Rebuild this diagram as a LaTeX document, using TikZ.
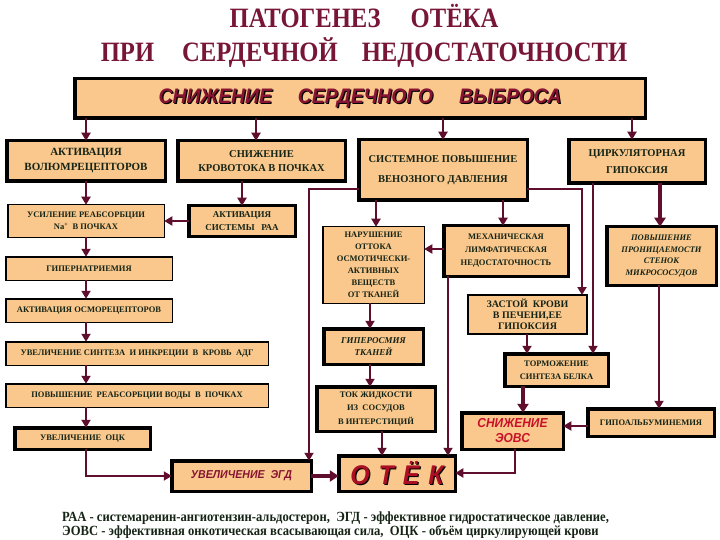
\documentclass[tikz,border=0pt]{standalone}
\usepackage{fontspec}
\setmainfont{Liberation Serif}
\newfontfamily\titlef{Liberation Serif}[FakeStretch=0.88]
\newfontfamily\footf{Liberation Serif}[FakeStretch=0.9]
\newfontfamily\sansit{Liberation Sans}[FakeStretch=0.92]
\usetikzlibrary{arrows.meta}
\definecolor{boxfill}{RGB}{250,200,140}
\definecolor{conn}{RGB}{95,15,45}
\definecolor{titlec}{RGB}{120,22,55}
\definecolor{textc}{RGB}{22,36,22}
\definecolor{redt}{RGB}{200,16,40}
\definecolor{otekc}{RGB}{170,15,35}
\definecolor{mainc}{RGB}{135,20,50}
\definecolor{shadowc}{RGB}{128,128,128}
\newcommand{\shtext}[2]{\leavevmode\rlap{\kern1.2pt\raisebox{-1.2pt}{\color{black}#2}}{\color{#1}#2}}
\pgfdeclarelayer{bg}
\pgfsetlayers{bg,main}
\tikzset{
  bigbox/.style={draw=black, line width=3.5pt, fill=boxfill, inner sep=0pt, outer sep=0pt, align=center, text=textc, font=\bfseries},
  smallbox/.style={draw=black, line width=1.5pt, fill=boxfill, inner sep=0pt, outer sep=0pt, align=center, text=textc, font=\bfseries},
  arr/.style={draw=conn, line width=2.5pt, -{Triangle[length=8pt,width=9pt]}},
  fatarr/.style={draw=conn, line width=4pt, -{Triangle[length=9pt,width=11pt]}},
  fs/.style={font=\bfseries\fontsize{#1}{#1}\selectfont}
}
\begin{document}
\begin{tikzpicture}[x=1pt,y=-1pt]
\useasboundingbox[fill=white] (0,0) rectangle (720,540);
% title
\node[anchor=base, text=titlec, font=\titlef\bfseries\fontsize{28}{28}\selectfont] (t1) at (364,28) {ПАТОГЕНЕЗ\hspace{30pt}ОТЁКА};
\node[anchor=base, text=titlec, font=\titlef\bfseries\fontsize{28}{28}\selectfont] (t2) at (364,62) {ПРИ\hspace{28pt}СЕРДЕЧНОЙ\hspace{24pt}НЕДОСТАТОЧНОСТИ};
% main box
\node[bigbox, minimum width=570.5pt, minimum height=39.5pt, font=\sansit\bfseries\itshape\fontsize{21}{21}\selectfont] (main) at (360,98.5)
  {\shtext{mainc}{СНИЖЕНИЕ\hspace{26pt}СЕРДЕЧНОГО\hspace{26pt}ВЫБРОСА}};
% row 1
\node[bigbox, minimum width=158.5pt, minimum height=40.5pt, font=\bfseries\fontsize{11}{15}\selectfont] (A1) at (86,161) {АКТИВАЦИЯ\\ВОЛЮМРЕЦЕПТОРОВ};
\node[bigbox, minimum width=167.5pt, minimum height=40.5pt, font=\bfseries\fontsize{10.5}{14}\selectfont] (A2) at (261.5,161) {СНИЖЕНИЕ\\КРОВОТОКА В ПОЧКАХ};
\node[bigbox, minimum width=168.5pt, minimum height=60.5pt, font=\bfseries\fontsize{10.5}{20}\selectfont] (A3) at (443,170) {СИСТЕМНОЕ ПОВЫШЕНИЕ\\ВЕНОЗНОГО ДАВЛЕНИЯ};
\node[bigbox, minimum width=136.5pt, minimum height=43.5pt, font=\bfseries\fontsize{10.5}{17}\selectfont] (A4) at (637,161.5) {ЦИРКУЛЯТОРНАЯ\\ГИПОКСИЯ};
% left column
\node[smallbox, minimum width=156.5pt, minimum height=32.5pt, font=\bfseries\fontsize{8.5}{12}\selectfont] (B1) at (86,221) {УСИЛЕНИЕ РЕАБСОРБЦИИ\\Na\textsuperscript{+}~ В ПОЧКАХ};
\node[bigbox, minimum width=106.5pt, minimum height=30.5pt, font=\bfseries\fontsize{9}{13}\selectfont] (B2) at (242,221) {АКТИВАЦИЯ\\СИСТЕМЫ~~ РАА};
\node[smallbox, minimum width=166.5pt, minimum height=23.5pt, fs=8.5] (C1) at (89,268.5) {ГИПЕРНАТРИЕМИЯ};
\node[smallbox, minimum width=166.5pt, minimum height=23.5pt, fs=8.5] (D1) at (89,310.5) {АКТИВАЦИЯ ОСМОРЕЦЕПТОРОВ};
\node[smallbox, minimum width=262.5pt, minimum height=23.5pt, fs=8.5] (E1) at (137,353.5) {УВЕЛИЧЕНИЕ СИНТЕЗА~ И ИНКРЕЦИИ~ В~ КРОВЬ~ АДГ};
\node[smallbox, minimum width=262.5pt, minimum height=23.5pt, fs=8.5] (F1) at (137,395.5) {ПОВЫШЕНИЕ~ РЕАБСОРБЦИИ ВОДЫ~ В~ ПОЧКАХ};
\node[bigbox, minimum width=135.5pt, minimum height=21.5pt, fs=8.5] (G1) at (82.5,438.5) {УВЕЛИЧЕНИЕ~ ОЦК};
% middle
\node[smallbox, minimum width=101.5pt, minimum height=76.5pt, font=\bfseries\fontsize{8.5}{12}\selectfont] (NAR) at (373.5,265) {НАРУШЕНИЕ\\ОТТОКА\\ОСМОТИЧЕСКИ-\\АКТИВНЫХ\\ВЕЩЕСТВ\\ОТ ТКАНЕЙ};
\node[bigbox, minimum width=124.5pt, minimum height=50.5pt, font=\bfseries\fontsize{8.5}{13}\selectfont] (MEH) at (506,251) {МЕХАНИЧЕСКАЯ\\ЛИМФАТИЧЕСКАЯ\\НЕДОСТАТОЧНОСТЬ};
\node[smallbox, line width=2pt, minimum width=119pt, minimum height=39pt, font=\bfseries\fontsize{10}{11}\selectfont] (ZAS) at (527.5,314.5) {ЗАСТОЙ~ КРОВИ\\В ПЕЧЕНИ,ЕЕ\\ГИПОКСИЯ};
\node[bigbox, minimum width=99.5pt, minimum height=35.5pt, font=\bfseries\itshape\fontsize{9}{12}\selectfont] (GIPER) at (373.5,346.5) {ГИПЕРОСМИЯ\\ТКАНЕЙ};
\node[bigbox, minimum width=118.5pt, minimum height=44.5pt, font=\bfseries\fontsize{8.5}{13.5}\selectfont] (TOK) at (376,409) {ТОК ЖИДКОСТИ\\ИЗ~ СОСУДОВ\\В ИНТЕРСТИЦИЙ};
\node[bigbox, minimum width=103.5pt, minimum height=32.5pt, font=\bfseries\fontsize{8.5}{13}\selectfont] (TORM) at (556.5,370) {ТОРМОЖЕНИЕ\\СИНТЕЗА БЕЛКА};
\node[bigbox, minimum width=109.5pt, minimum height=58.5pt, font=\bfseries\itshape\fontsize{8.5}{11.5}\selectfont] (POV) at (661.5,256) {ПОВЫШЕНИЕ\\ПРОНИЦАЕМОСТИ\\СТЕНОК\\МИКРОСОСУДОВ};
\node[bigbox, minimum width=126.5pt, minimum height=27.5pt, fs=8.5] (GALB) at (651,422.5) {ГИПОАЛЬБУМИНЕМИЯ};
\node[bigbox, minimum width=101.5pt, minimum height=36.5pt, text=redt, font=\sansit\bfseries\itshape\fontsize{13}{15}\selectfont] (EOVS) at (512.5,431) {СНИЖЕНИЕ\\ЭОВС};
% bottom
\node[bigbox, minimum width=139.5pt, minimum height=30.5pt, text=mainc, font=\sansit\bfseries\itshape\fontsize{11.5}{12}\selectfont] (EGD) at (241.5,476) {УВЕЛИЧЕНИЕ~ ЭГД};
\node[bigbox, minimum width=116.5pt, minimum height=35.5pt, font=\sansit\bfseries\itshape\fontsize{27}{27}\selectfont] (OTEK) at (397,473.5) {\shtext{otekc}{О\hspace{9pt}Т\hspace{9pt}Ё\hspace{9pt}К}};
% shadows
\begin{pgfonlayer}{bg}
\fill[shadowc] ([shift={(3,-3)}]main.south west) rectangle ([shift={(6.75,-6.75)}]main.north east);
\fill[shadowc] ([shift={(3,-5)}]EGD.south west) rectangle ([shift={(6.75,-8.75)}]EGD.north east);
\fill[shadowc] ([shift={(3,-5)}]OTEK.south west) rectangle ([shift={(6.75,-7.75)}]OTEK.north east);
\end{pgfonlayer}
% connectors
\draw[arr] (main.south -| A1) -- (A1.north);
\draw[arr] (main.south -| 256,0) -- (A2.north -| 256,0);
\draw[arr] (main.south -| A3) -- (A3.north);
\draw[arr] (main.south -| 632,0) -- (A4.north -| 632,0);
\draw[arr] (A1.south) -- (B1.north);
\draw[arr] (A2.south -| B2) -- (B2.north);
\draw[arr] (B2.west) -- (B1.east);
\draw[arr] (B1.south) -- (C1.north -| B1);
\draw[arr] (C1.south -| B1) -- (D1.north -| B1);
\draw[arr] (D1.south -| B1) -- (E1.north -| B1);
\draw[arr] (E1.south -| B1) -- (F1.north -| B1);
\draw[arr] (F1.south -| B1) -- (G1.north -| B1);
\draw[arr] (G1.south -| B1) |- (EGD.west);
\draw[arr] (A3.west |- 0,189) -| (EGD.north -| 309,0);
\draw[arr] (A3.south -| 376,0) -- (NAR.north -| 376,0);
\draw[arr] (A3.south -| 503,0) -- (MEH.north -| 503,0);
\draw[arr] (A3.east |- 0,189) -| (ZAS.north -| 582,0);
\draw[arr] (MEH.west |- 0,249) -- (NAR.east |- 0,249);
\draw[arr] (MEH.south -| 448,0) -- (OTEK.north -| 448,0);
\draw[arr] (NAR.south -| 370,0) -- (GIPER.north -| 370,0);
\draw[arr] (GIPER.south -| 370,0) -- (TOK.north -| 370,0);
\draw[arr] (TOK.south -| 382,0) -- (OTEK.north -| 382,0);
\draw[arr] (ZAS.south -| 527,0) -- (TORM.north -| 527,0);
\draw[arr] (A4.south -| 593,0) -- (TORM.north -| 593,0);
\draw[fatarr] (A4.south -| 660,0) -- (POV.north -| 660,0);
\draw[arr] (POV.south -| 659,0) -- (GALB.north -| 659,0);
\draw[fatarr] (TORM.south -| 523,0) -- (EOVS.north -| 523,0);
\draw[arr] (GALB.west |- 0,426) -- (EOVS.east |- 0,426);
\draw[arr] (EOVS.south -| 515,0) |- (OTEK.east |- 0,473);
\draw[fatarr] (EGD.east) -- (OTEK.west |- EGD.east);
% footnote
\node[anchor=base west, inner sep=0pt, text=textc, font=\footf\bfseries\fontsize{14}{14}\selectfont] (n1) at (62,521) {РАА - системаренин-ангиотензин-альдостерон,~ ЭГД - эффективное гидростатическое давление,};
\node[anchor=base west, inner sep=0pt, text=textc, font=\footf\bfseries\fontsize{14}{14}\selectfont] (n2) at (62,535) {ЭОВС - эффективная онкотическая всасывающая сила,~ ОЦК - объём циркулирующей крови};
\end{tikzpicture}
\end{document}
